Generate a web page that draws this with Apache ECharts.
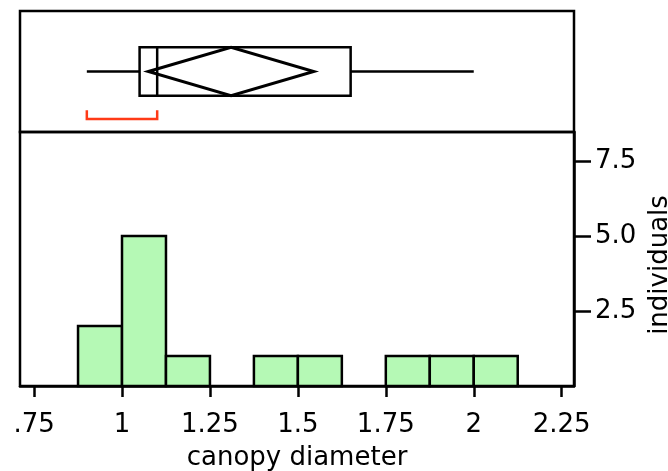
<!DOCTYPE html>
<html>
<head>
<meta charset="utf-8">
<script src="https://cdn.jsdelivr.net/npm/echarts@6/dist/echarts.min.js"></script>
<style>
html,body{margin:0;padding:0;background:#fff;}
#chart{width:668px;height:471px;}
</style>
</head>
<body>
<div id="chart"></div>
<script>
// ---- data ----
const binStarts = [0.875, 1.0, 1.125, 1.375, 1.5, 1.75, 1.875, 2.0];
const binCounts = [2, 5, 1, 1, 1, 1, 1, 1];
const binWidth = 0.125;
const xTickValues = [0.75, 1, 1.25, 1.5, 1.75, 2, 2.25];
const xTickLabels = ['.75', '1', '1.25', '1.5', '1.75', '2', '2.25'];
const yTickValues = [2.5, 5, 7.5];
const yTickLabels = ['2.5', '5.0', '7.5'];
const quantiles = [0.9, 1.05, 1.1, 1.65, 2.0];      // whisker low, Q1, median, Q3, whisker high
const meanDiamond = [1.075, 1.31, 1.545];            // lower CI, mean, upper CI
const shortestHalf = [0.9, 1.1];
const xTitle = 'canopy diameter';
const yTitle = 'individuals';

// ---- layout ----
const X_MIN = 0.71, X_MAX = 2.285;
const FONT = 'DejaVu Sans';
const chart = echarts.init(document.getElementById('chart'), null, {renderer: 'canvas'});

const histData = binStarts.map((s, i) => [s, s + binWidth, binCounts[i]]);

function lbl(values, labels) {
  return function (v) {
    for (let i = 0; i < values.length; i++) if (Math.abs(values[i] - v) < 1e-9) return labels[i];
    return '';
  };
}

const option = {
  animation: false,
  backgroundColor: '#ffffff',
  grid: [
    {left: 20, right: 94, top: 11, height: 121, show: true, borderColor: '#000', borderWidth: 2.5,
      backgroundColor: 'transparent', containLabel: false, outerBoundsMode: 'none'},
    {left: 20, right: 94, top: 132, bottom: 85, show: true, borderColor: '#000', borderWidth: 2.5,
      backgroundColor: 'transparent', containLabel: false, outerBoundsMode: 'none'}
  ],
  xAxis: [
    {type: 'value', gridIndex: 0, min: X_MIN, max: X_MAX, show: false},
    {
      type: 'value', gridIndex: 1, min: X_MIN, max: X_MAX,
      name: xTitle, nameLocation: 'middle', nameGap: 59,
      nameTextStyle: {fontFamily: FONT, fontSize: 26, color: '#000'},
      axisLine: {show: true, onZero: false, lineStyle: {color: '#000', width: 2.5}},
      axisTick: {show: true, customValues: xTickValues, length: 11, inside: false, lineStyle: {color: '#000', width: 2.5}},
      axisLabel: {show: true, customValues: xTickValues, formatter: lbl(xTickValues, xTickLabels), margin: 26,
        fontFamily: FONT, fontSize: 26, color: '#000'},
      splitLine: {show: false}
    }
  ],
  yAxis: [
    {type: 'value', gridIndex: 0, min: 0, max: 1, show: false},
    {
      type: 'value', gridIndex: 1, position: 'right', min: 0, max: 8.47,
      name: yTitle, nameLocation: 'middle', nameGap: 72, nameRotate: 90,
      nameTextStyle: {fontFamily: FONT, fontSize: 26, color: '#000', padding: [0, 12, 0, 0]},
      axisLine: {show: true, onZero: false, lineStyle: {color: '#000', width: 2.5}},
      axisTick: {show: true, customValues: yTickValues, length: 17, inside: false, lineStyle: {color: '#000', width: 2.5}},
      axisLabel: {show: true, customValues: yTickValues, formatter: lbl(yTickValues, yTickLabels), margin: 21,
        fontFamily: FONT, fontSize: 26, color: '#000'},
      splitLine: {show: false}
    }
  ],
  series: [
    {
      type: 'custom', xAxisIndex: 0, yAxisIndex: 0, clip: false,
      data: [[quantiles[2], 0.5]],
      renderItem: function (params, api) {
        const X = v => api.coord([v, 0.5])[0];
        const yTop = api.coord([X_MIN, 0.7])[1];
        const yBot = api.coord([X_MIN, 0.3])[1];
        const yMid = api.coord([X_MIN, 0.5])[1];
        const yRed = api.coord([X_MIN, 0.107])[1];
        const yRedTop = api.coord([X_MIN, 0.18])[1];
        const st = {stroke: '#000', lineWidth: 2.5, fill: null};
        return {
          type: 'group',
          children: [
            {type: 'line', shape: {x1: X(quantiles[0]), y1: yMid, x2: X(quantiles[1]), y2: yMid}, style: st},
            {type: 'line', shape: {x1: X(quantiles[3]), y1: yMid, x2: X(quantiles[4]), y2: yMid}, style: st},
            {type: 'rect', shape: {x: X(quantiles[1]), y: yTop, width: X(quantiles[3]) - X(quantiles[1]), height: yBot - yTop}, style: {stroke: '#000', lineWidth: 2.5, fill: 'none'}},
            {type: 'line', shape: {x1: X(quantiles[2]), y1: yTop, x2: X(quantiles[2]), y2: yBot}, style: st},
            {type: 'polygon', shape: {points: [[X(meanDiamond[0]), yMid], [X(meanDiamond[1]), yTop], [X(meanDiamond[2]), yMid], [X(meanDiamond[1]), yBot]]},
              style: {stroke: '#000', lineWidth: 3, fill: 'none'}},
            {type: 'polyline', shape: {points: [[X(shortestHalf[0]), yRedTop], [X(shortestHalf[0]), yRed], [X(shortestHalf[1]), yRed], [X(shortestHalf[1]), yRedTop]]},
              style: {stroke: '#ff3a17', lineWidth: 2.5, fill: null}}
          ]
        };
      }
    },
    {
      type: 'custom', xAxisIndex: 1, yAxisIndex: 1,
      data: histData,
      encode: {x: [0, 1], y: 2},
      renderItem: function (params, api) {
        const p0 = api.coord([api.value(0), 0]);
        const p1 = api.coord([api.value(1), api.value(2)]);
        return {
          type: 'rect',
          shape: {x: p0[0], y: p1[1], width: p1[0] - p0[0], height: p0[1] - p1[1]},
          style: {fill: '#b5f9b5', stroke: '#000', lineWidth: 2.5}
        };
      }
    }
  ]
};
chart.setOption(option);
</script>
</body>
</html>
